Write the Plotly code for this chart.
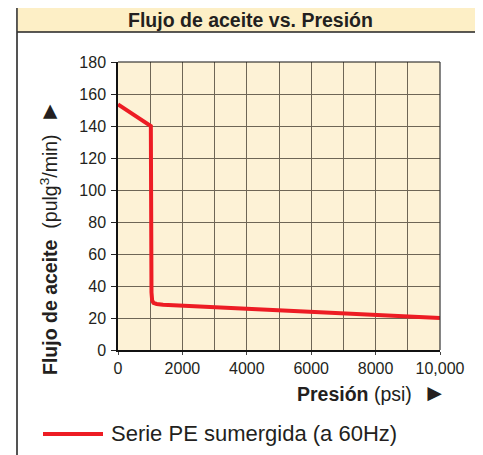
import plotly.graph_objects as go

# ---- data ----
pressure_psi = [0, 1020, 1040, 1060, 1100, 1200, 1400, 4000, 6000, 8000, 10000]
oil_flow = [153.5, 140, 36, 31, 29.5, 28.8, 28.3, 25.9, 23.7, 21.8, 20]
series_name = "Serie PE sumergida (a 60Hz)"
x_tick_vals = [0, 2000, 4000, 6000, 8000, 10000]
x_tick_text = ["0", "2000", "4000", "6000", "8000", "10,000"]
y_tick_vals = [0, 20, 40, 60, 80, 100, 120, 140, 160, 180]
chart_title = "Flujo de aceite vs. Presión"

OFF = 8  # page body margin offset
W, H = 483 - OFF, 455 - OFF
L, R, T, B = 118 - OFF, 440 - OFF, 62 - OFF, 350 - OFF
FONT = "Liberation Sans, Arial, Helvetica, sans-serif"
TXT = "#231f20"
RED = "#ed1c24"


def px(x):
    return (x - OFF - L) / (R - L)


def py(y):
    return (B - (y - OFF)) / (B - T)


fig = go.Figure()
fig.add_trace(go.Scatter(
    x=pressure_psi, y=oil_flow, mode="lines", name=series_name,
    line=dict(color=RED, width=4), showlegend=False,
))

shapes = [
    # outer frame
    dict(type="rect", xref="paper", yref="paper", x0=px(17), x1=px(482), y0=py(460), y1=py(1),
         line=dict(color="#8a8a8a", width=1.2), fillcolor="rgba(0,0,0,0)", layer="below"),
    # title bar
    dict(type="rect", xref="paper", yref="paper", x0=px(17), x1=px(482), y0=py(32), y1=py(1),
         line=dict(width=0), fillcolor="#fdefc6", layer="below"),
    dict(type="line", xref="paper", yref="paper", x0=px(17), x1=px(482), y0=py(32), y1=py(32),
         line=dict(color="#222222", width=1.5)),
    dict(type="line", xref="paper", yref="paper", x0=px(17), x1=px(17), y0=py(460), y1=py(1),
         line=dict(color="#333333", width=1.5)),
    # legend sample line
    dict(type="line", xref="paper", yref="paper", x0=px(43), x1=px(103), y0=py(434), y1=py(434),
         line=dict(color=RED, width=4)),
    # top and right borders of plot area
    dict(type="line", xref="paper", yref="paper", x0=0, x1=1, y0=1, y1=1,
         line=dict(color="#111111", width=1.2)),
    dict(type="line", xref="paper", yref="paper", x0=1, x1=1, y0=0, y1=1,
         line=dict(color="#333333", width=1.2)),
]

TRI = '<span style="font-size:24px">►</span>'
annotations = [
    dict(text="<b>" + chart_title + "</b>", xref="paper", yref="paper", x=px(250), y=py(20.5),
         showarrow=False, font=dict(size=19.5, color=TXT, family=FONT), xanchor="center", yanchor="middle",
         borderpad=0),
    dict(text="<b>Flujo de aceite</b>  (pulg<sup>3</sup>/min)  " + TRI, xref="paper", yref="paper",
         x=px(48), y=py(238), textangle=-90, showarrow=False,
         font=dict(size=19.5, color=TXT, family=FONT), xanchor="center", yanchor="middle"),
    dict(text="<b>Presión</b> (psi)  " + TRI, xref="paper", yref="paper", x=px(448), y=py(392),
         showarrow=False, font=dict(size=19.5, color=TXT, family=FONT), xanchor="right", yanchor="middle"),
    dict(text=series_name, xref="paper", yref="paper", x=px(109), y=py(433),
         showarrow=False, font=dict(size=22, color=TXT, family=FONT), xanchor="left", yanchor="middle"),
]

GRID = "#6e6656"
fig.update_layout(
    width=W, height=H,
    margin=dict(l=L, r=W - R, t=T, b=H - B, pad=0),
    paper_bgcolor="white", plot_bgcolor="#fdf2d6",
    font=dict(family=FONT, color=TXT, size=16),
    shapes=shapes, annotations=annotations, showlegend=False,
    xaxis=dict(range=[0, 10000], tickvals=x_tick_vals, ticktext=x_tick_text,
               showgrid=True, gridcolor=GRID, gridwidth=1,
               minor=dict(dtick=1000, showgrid=True, gridcolor=GRID, gridwidth=1),
               showline=True, linecolor="#111111", linewidth=1.5, mirror=False,
               ticks="outside", ticklen=3, tickcolor="#444", zeroline=False,
               tickfont=dict(size=16, color=TXT)),
    yaxis=dict(range=[0, 180], tickvals=y_tick_vals,
               showgrid=True, gridcolor=GRID, gridwidth=1,
               showline=True, linecolor="#111111", linewidth=1.5,
               ticks="outside", ticklen=5, tickcolor="#222", zeroline=False,
               ticklabelstandoff=2,
               tickfont=dict(size=16, color=TXT)),
)

fig.write_html("out.html")
